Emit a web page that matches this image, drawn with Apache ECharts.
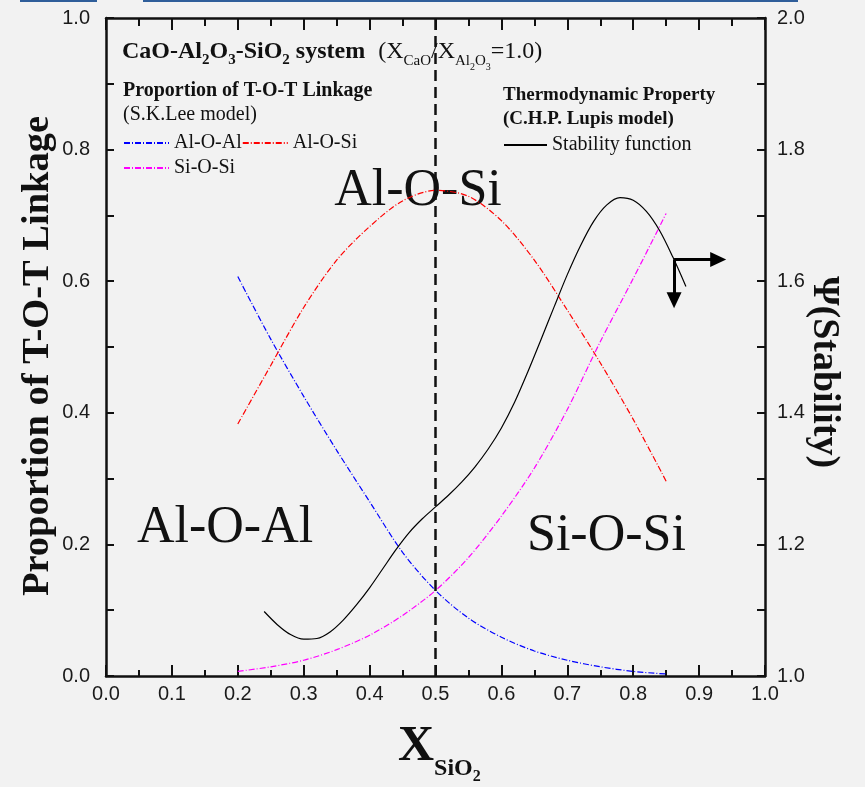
<!DOCTYPE html>
<html>
<head>
<meta charset="utf-8">
<script src="https://cdn.jsdelivr.net/npm/echarts@6/dist/echarts.min.js"></script>
<style>
  html, body { margin: 0; padding: 0; background: #f2f2f2; }
  #chart { width: 865px; height: 787px; }
</style>
</head>
<body>
<div id="chart"></div>
<script>
// X(SiO2) positions of the three T-O-T linkage curves
const xLinkage = [0.20, 0.25, 0.30, 0.35, 0.40, 0.45, 0.50, 0.55, 0.60, 0.65, 0.70, 0.75, 0.80, 0.85];
const alOAl = [0.607, 0.512, 0.425, 0.343, 0.265, 0.188, 0.130, 0.088, 0.059, 0.038, 0.024, 0.014, 0.007, 0.003];
const alOSi = [0.383, 0.472, 0.560, 0.632, 0.683, 0.722, 0.738, 0.729, 0.692, 0.632, 0.556, 0.476, 0.390, 0.296];
const siOSi = [0.007, 0.014, 0.024, 0.040, 0.062, 0.092, 0.130, 0.180, 0.243, 0.316, 0.405, 0.508, 0.604, 0.703];

// stability function (right axis)
const xStability = [0.24, 0.26, 0.28, 0.30, 0.32, 0.34, 0.36, 0.38, 0.40, 0.42, 0.44, 0.46, 0.48, 0.50, 0.52,
  0.54, 0.56, 0.58, 0.60, 0.62, 0.64, 0.66, 0.68, 0.70, 0.72, 0.74, 0.76, 0.78, 0.80, 0.82, 0.84, 0.86, 0.88];
const stability = [1.098, 1.078, 1.063, 1.056, 1.057, 1.067, 1.085, 1.108, 1.134, 1.163, 1.192, 1.218, 1.239, 1.257, 1.275,
  1.295, 1.318, 1.345, 1.377, 1.416, 1.462, 1.511, 1.561, 1.610, 1.654, 1.691, 1.716, 1.727, 1.723, 1.706, 1.677, 1.637, 1.592];

// the composition marker and the "read right / read down" arrows
const markerX = 0.5;
const arrowFrom = [0.862, 1.633];
const arrowRightTo = [0.929, 1.633];
const arrowDownTo = [0.862, 1.571];

const SERIF = 'Liberation Serif';
const SANS = 'Liberation Sans';
const dashDot = [6, 2, 1, 2];

function pairs(xs, ys) {
  return xs.map((x, i) => [x, ys[i]]);
}

// onZero off, otherwise the right axis ticks get pulled over to x = 0
const axisLine = { show: true, onZero: false, lineStyle: { color: '#111', width: 2.5 } };
const tickLine = { color: '#111', width: 2 };
const labelStyle = { fontFamily: SANS, fontSize: 20, color: '#1a1a1a' };
const legendText = { fontFamily: SERIF, fontSize: 20, color: '#111' };
// line-only legend icons: hide the marker the line series adds
const legendBase = { padding: 0, itemHeight: 14, selectedMode: false, itemStyle: { opacity: 0 }, textStyle: legendText };

const chart = echarts.init(document.getElementById('chart'));

chart.setOption({
  backgroundColor: '#f2f2f2',
  animation: false,
  grid: { left: 106, right: 100, top: 18, bottom: 111 },
  xAxis: [
    {
      type: 'value', min: 0, max: 1, interval: 0.1, position: 'bottom',
      axisLine: axisLine,
      axisTick: { inside: true, length: 11, lineStyle: tickLine },
      minorTick: { show: true, splitNumber: 2, length: 6, lineStyle: tickLine },
      splitLine: { show: false },
      axisLabel: { ...labelStyle, margin: 8, formatter: v => v.toFixed(1) }
    },
    {
      type: 'value', min: 0, max: 1, interval: 0.1, position: 'top',
      axisLine: axisLine,
      axisTick: { inside: true, length: 12, lineStyle: tickLine },
      minorTick: { show: true, splitNumber: 2, length: 8, lineStyle: tickLine },
      splitLine: { show: false },
      axisLabel: { show: false }
    }
  ],
  yAxis: [
    {
      type: 'value', min: 0, max: 1, interval: 0.2, position: 'left',
      axisLine: axisLine,
      axisTick: { show: true, inside: true, length: 8, lineStyle: tickLine },
      minorTick: { show: true, splitNumber: 2, length: 8, lineStyle: tickLine },
      splitLine: { show: false },
      axisLabel: { ...labelStyle, margin: 16, formatter: v => v.toFixed(1) }
    },
    {
      type: 'value', min: 1, max: 2, interval: 0.2, position: 'right',
      axisLine: axisLine,
      axisTick: { show: true, inside: true, length: 8, lineStyle: tickLine },
      minorTick: { show: true, splitNumber: 2, length: 8, lineStyle: tickLine },
      splitLine: { show: false },
      axisLabel: { ...labelStyle, margin: 12, formatter: v => v.toFixed(1) }
    }
  ],
  legend: [
    { ...legendBase, left: 123, top: 133, itemWidth: 45, itemGap: 0, data: ['Al-O-Al', 'Al-O-Si'] },
    { ...legendBase, left: 123, top: 158, itemWidth: 45, data: ['Si-O-Si'] },
    { ...legendBase, left: 503, top: 135, itemWidth: 43, data: ['Stability function'] }
  ],
  series: [
    {
      name: 'Al-O-Al', type: 'line', smooth: 0.3, symbol: 'none',
      lineStyle: { color: '#0000ff', width: 1.2, type: dashDot },
      itemStyle: { color: '#0000ff' },
      data: pairs(xLinkage, alOAl),
      markLine: {
        silent: true, symbol: 'none', label: { show: false },
        lineStyle: { color: '#111', width: 2.5, type: [11, 6] },
        data: [{ xAxis: markerX }]
      }
    },
    {
      name: 'Al-O-Si', type: 'line', smooth: 0.3, symbol: 'none',
      lineStyle: { color: '#ff0000', width: 1.2, type: dashDot },
      itemStyle: { color: '#ff0000' },
      data: pairs(xLinkage, alOSi)
    },
    {
      name: 'Si-O-Si', type: 'line', smooth: 0.3, symbol: 'none',
      lineStyle: { color: '#ff00ff', width: 1.2, type: dashDot },
      itemStyle: { color: '#ff00ff' },
      data: pairs(xLinkage, siOSi)
    },
    {
      name: 'Stability function', type: 'line', yAxisIndex: 1, smooth: 0.3, symbol: 'none',
      lineStyle: { color: '#000', width: 1.2 },
      itemStyle: { color: '#000' },
      data: pairs(xStability, stability),
      markLine: {
        silent: true, symbol: ['none', 'triangle'], symbolSize: [15, 16], label: { show: false },
        lineStyle: { color: '#000', width: 3, type: 'solid' },
        itemStyle: { color: '#000' },
        data: [
          [{ coord: arrowFrom }, { coord: arrowRightTo }],
          [{ coord: arrowFrom }, { coord: arrowDownTo }]
        ]
      }
    }
  ],
  graphic: [
    // slide border remnants along the top edge
    { type: 'rect', left: 20, top: 0, shape: { width: 77, height: 2 }, style: { fill: '#2f5e9a' } },
    { type: 'rect', left: 143, top: 0, shape: { width: 655, height: 2 }, style: { fill: '#2f5e9a' } },
    {
      type: 'text', left: 122, top: 40,
      style: {
        text: '{b|CaO-Al}{bs|2}{b|O}{bs|3}{b|-SiO}{bs|2}{b| system}{np|(X}{ns|CaO}{n|/X}{ns|Al}{nss|2}{ns|O}{nss|3}{n|=1.0)}',
        rich: {
          b: { fontFamily: SERIF, fontWeight: 'bold', fontSize: 24, fill: '#111' },
          bs: { fontFamily: SERIF, fontWeight: 'bold', fontSize: 15, fill: '#111', padding: [16, 0, 0, 0] },
          np: { fontFamily: SERIF, fontSize: 24, fill: '#111', padding: [0, 0, 0, 13] },
          n: { fontFamily: SERIF, fontSize: 24, fill: '#111' },
          ns: { fontFamily: SERIF, fontSize: 15, fill: '#111', padding: [18, 0, 0, 0] },
          nss: { fontFamily: SERIF, fontSize: 10, fill: '#111', padding: [30, 0, 0, 0] }
        }
      }
    },
    {
      type: 'text', left: 123, top: 81,
      style: { text: 'Proportion of T-O-T Linkage', fontFamily: SERIF, fontWeight: 'bold', fontSize: 20, fill: '#111' }
    },
    {
      type: 'text', left: 123, top: 105,
      style: { text: '(S.K.Lee model)', fontFamily: SERIF, fontSize: 20, fill: '#111' }
    },
    {
      type: 'text', left: 503, top: 86,
      style: { text: 'Thermodynamic Property', fontFamily: SERIF, fontWeight: 'bold', fontSize: 19, fill: '#111' }
    },
    {
      type: 'text', left: 503, top: 110,
      style: { text: '(C.H.P. Lupis model)', fontFamily: SERIF, fontWeight: 'bold', fontSize: 19, fill: '#111' }
    },
    {
      type: 'text', x: 418, y: 217,
      style: { text: 'Al-O-Si', fontFamily: SERIF, fontSize: 52, fill: '#111', align: 'center', verticalAlign: 'bottom' }
    },
    {
      type: 'text', x: 137, y: 554,
      style: { text: 'Al-O-Al', fontFamily: SERIF, fontSize: 52, fill: '#111', align: 'left', verticalAlign: 'bottom' }
    },
    {
      type: 'text', x: 527, y: 562,
      style: { text: 'Si-O-Si', fontFamily: SERIF, fontSize: 52, fill: '#111', align: 'left', verticalAlign: 'bottom' }
    },
    {
      type: 'text', x: 38, y: 356, rotation: Math.PI / 2,
      style: {
        text: 'Proportion of T-O-T Linkage', fontFamily: SERIF, fontWeight: 'bold', fontSize: 38.5,
        fill: '#111', align: 'center', verticalAlign: 'middle'
      }
    },
    {
      type: 'text', x: 824, y: 372, rotation: -Math.PI / 2,
      style: {
        text: 'Ψ(Stability)', fontFamily: SERIF, fontWeight: 'bold', fontSize: 38,
        fill: '#111', align: 'center', verticalAlign: 'middle'
      }
    },
    {
      type: 'text', left: 398, top: 722,
      style: {
        text: '{x|X}{s|SiO}{ss|2}',
        rich: {
          x: { fontFamily: SERIF, fontWeight: 'bold', fontSize: 50, fill: '#111' },
          s: { fontFamily: SERIF, fontWeight: 'bold', fontSize: 24, fill: '#111', padding: [44, 0, 0, 0] },
          ss: { fontFamily: SERIF, fontWeight: 'bold', fontSize: 16, fill: '#111', padding: [60, 0, 0, 0] }
        }
      }
    }
  ]
});
</script>
</body>
</html>
